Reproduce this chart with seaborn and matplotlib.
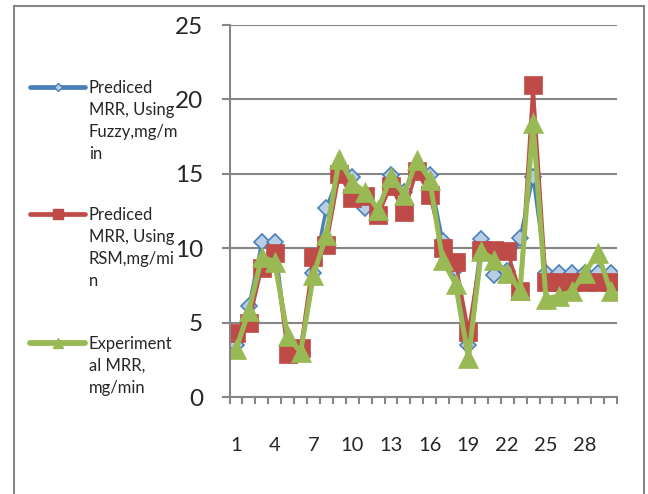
import seaborn as sns
import matplotlib.pyplot as plt
from matplotlib.lines import Line2D
from matplotlib.patches import Rectangle

# data
experiment = list(range(1, 31))
fuzzy_mrr = [3.5, 6.1, 10.4, 10.4, 3.5, 3.1, 8.3, 12.7, 15.0, 14.8,
             12.7, 12.5, 14.9, 13.8, 15.2, 14.9, 10.5, 8.6, 3.5, 10.6,
             8.2, 8.5, 10.7, 14.8, 8.3, 8.3, 8.3, 8.3, 8.3, 8.3]
rsm_mrr = [4.3, 5.0, 8.7, 9.7, 2.9, 3.3, 9.4, 10.2, 15.0, 13.4,
           13.5, 12.2, 14.2, 12.4, 15.2, 13.6, 10.0, 9.1, 4.4, 9.9,
           9.9, 9.8, 7.1, 21.0, 7.75, 7.75, 7.75, 7.75, 7.75, 7.75]
exp_mrr = [3.2, 5.8, 9.4, 9.1, 4.1, 3.0, 8.2, 10.9, 16.0, 14.4,
           13.8, 12.6, 14.8, 13.6, 15.9, 14.6, 9.2, 7.6, 2.6, 9.8,
           9.2, 8.3, 7.2, 18.4, 6.6, 6.8, 7.1, 8.3, 9.7, 7.1]
labels = ['Prediced\nMRR, Using\nFuzzy,mg/m\nin',
          'Prediced\nMRR, Using\nRSM,mg/mi\nn',
          'Experiment\nal MRR,\nmg/min']
x_tick_labels = [1, 4, 7, 10, 13, 16, 19, 22, 25, 28]

BLUE, RED, GREEN, GRAY = '#4A7EBB', '#BE4B48', '#98B954', '#868686'

sns.set_style('white')
plt.rcParams['font.family'] = ['Lato', 'DejaVu Sans']

W, H = 648, 494
fig = plt.figure(figsize=(W / 100, H / 100), dpi=100)
ax = fig.add_axes([229.5 / W, 97 / H, 387.5 / W, 372 / H])

sns.lineplot(x=experiment, y=fuzzy_mrr, ax=ax, color=BLUE, lw=2.4,
             marker='D', markersize=8.5, markerfacecolor='#B9CDE5',
             markeredgecolor=BLUE, markeredgewidth=1.2)
sns.lineplot(x=experiment, y=rsm_mrr, ax=ax, color=RED, lw=2.4,
             marker='s', markersize=13, markerfacecolor=RED,
             markeredgecolor=RED, markeredgewidth=0.5)
sns.lineplot(x=experiment, y=exp_mrr, ax=ax, color=GREEN, lw=3.6,
             marker='^', markersize=14, markerfacecolor=GREEN,
             markeredgecolor=GREEN, markeredgewidth=0.5)

ax.set_xlim(0.5, 30.5)
ax.set_ylim(0, 25)
ax.set_yticks(range(0, 26, 5))
ax.set_xticks(x_tick_labels)
ax.set_xticks([i + 0.5 for i in range(0, 31)], minor=True)
ax.set_xlabel('')
ax.set_ylabel('')
ax.yaxis.grid(True, color=GRAY, lw=1.5)
ax.set_axisbelow(True)
for side in ['top', 'right']:
    ax.spines[side].set_visible(False)
for side in ['left', 'bottom']:
    ax.spines[side].set_color(GRAY)
    ax.spines[side].set_linewidth(1.5)
ax.tick_params(axis='y', left=True, length=6, width=1.5, color=GRAY,
               pad=13, labelsize=17.5)
ax.tick_params(axis='x', which='major', bottom=True, length=0, pad=29,
               labelsize=14.5)
ax.tick_params(axis='x', which='minor', bottom=True, length=5, width=1.5,
               color=GRAY)

# legend drawn Excel-style: key aligned with first text line
legend_rows = [
    (87, BLUE, 'D', 4.5, '#B9CDE5', 3.4, labels[0]),
    (214, RED, 's', 7, RED, 3.4, labels[1]),
    (343, GREEN, '^', 7, GREEN, 4.2, labels[2]),
]
for y, color, marker, ms, mfc, lw, text in legend_rows:
    fig.add_artist(Line2D([30 / W, 57.5 / W, 85 / W], [1 - y / H] * 3,
                          color=color, lw=lw, solid_capstyle='round',
                          marker=marker, markevery=[1], markersize=ms,
                          markerfacecolor=mfc, markeredgecolor=color))
    fig.text(89 / W, 1 - (y - 7) / H, text, fontsize=12, va='top',
             ha='left', linespacing=1.45)

fig.add_artist(Rectangle((14 / W, -0.05), 630 / W, 1.05 - 6 / H,
                         transform=fig.transFigure, fill=False,
                         edgecolor=GRAY, lw=1.5))

fig.savefig('out.png', dpi=100)
